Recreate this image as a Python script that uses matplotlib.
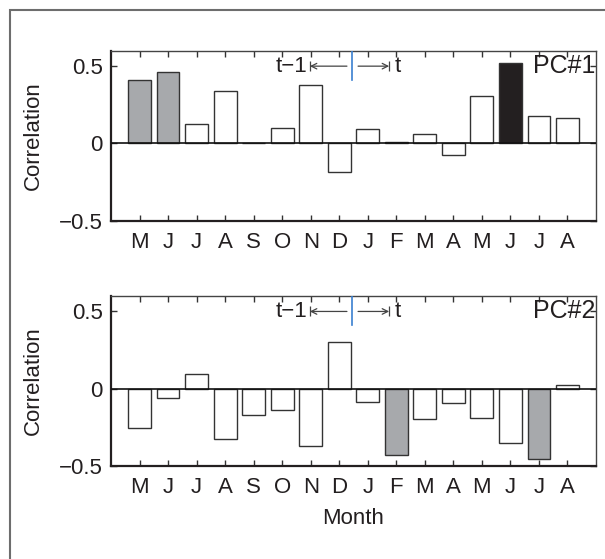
import matplotlib
matplotlib.use("Agg")
import matplotlib.pyplot as plt
from matplotlib.patches import Rectangle

plt.rcParams['font.family'] = ['Liberation Sans', 'DejaVu Sans']

months = ["M", "J", "J", "A", "S", "O", "N", "D", "J", "F", "M", "A", "M", "J", "J", "A"]
pc1 = [0.410, 0.464, 0.124, 0.342, 0.006, 0.098, 0.378, -0.188,
       0.094, 0.009, 0.060, -0.075, 0.308, 0.519, 0.177, 0.162]
pc2 = [-0.254, -0.060, 0.093, -0.325, -0.170, -0.140, -0.369, 0.304,
       -0.084, -0.431, -0.198, -0.093, -0.192, -0.353, -0.453, 0.022]
# shading class per bar: 0 = not significant, 1 = gray, 2 = black
pc1_sig = [1, 1, 0, 0, 0, 0, 0, 0, 0, 0, 0, 0, 0, 2, 0, 0]
pc2_sig = [0, 0, 0, 0, 0, 0, 0, 0, 0, 1, 0, 0, 0, 0, 1, 0]
labels = ["PC#1", "PC#2"]

fills = {0: "white", 1: "#a7a9ac", 2: "#231f20"}

W, H = 605, 559
fig = plt.figure(figsize=(W / 100, H / 100), dpi=100)

# outer frame
fig.add_artist(Rectangle((9.5 / W, -0.2), 1.5, 1.2 - 10 / H,
                         transform=fig.transFigure, fill=False,
                         edgecolor="#6d6d6d", linewidth=1.5, clip_on=False))

ax_l, ax_w = 111 / W, 485 / W
ax_h = 170 / H
axes_bottoms = [1 - 220.7 / H, 1 - 466 / H]

x = list(range(1, len(months) + 1))
FS = 16

for i, (vals, sig, lab) in enumerate(zip([pc1, pc2], [pc1_sig, pc2_sig], labels)):
    ax = fig.add_axes([ax_l, axes_bottoms[i], ax_w, ax_h])
    ax.bar(x, vals, width=0.8, color=[fills[s] for s in sig],
           edgecolor="#333333", linewidth=1.0, zorder=2)
    ax.axhline(0, color="#111111", linewidth=1.2, zorder=3)
    ax.set_xlim(0, 17)
    ax.set_ylim(-0.5, 0.6)
    ax.set_xticks(x)
    ax.set_xticklabels(months)
    ax.set_yticks([-0.5, 0, 0.5])
    ax.set_yticklabels(["\u22120.5", "0", "0.5"])
    ax.tick_params(direction="in", top=True, right=True, length=4,
                   width=1.0, color="#333333", labelsize=FS,
                   labelcolor="#231f20")
    ax.tick_params(axis="x", pad=8)
    ax.tick_params(axis="y", pad=6)
    for s in ["left", "bottom"]:
        ax.spines[s].set_linewidth(1.6)
        ax.spines[s].set_color("#231f20")
    for s in ["top", "right"]:
        ax.spines[s].set_linewidth(1.0)
        ax.spines[s].set_color("#444444")
    ax.set_ylabel("Correlation", fontsize=FS, color="#231f20", labelpad=11)

    # t-1 / t indicator
    ax.plot([8.46, 8.46], [0.6, 0.41], color="#3a7fd0", linewidth=1.2, zorder=4)
    ax.annotate("", xy=(6.97, 0.5), xytext=(8.27, 0.5),
                arrowprops=dict(arrowstyle="->", color="#444444", lw=0.9,
                                shrinkA=0, shrinkB=0))
    ax.annotate("", xy=(9.75, 0.5), xytext=(8.66, 0.5),
                arrowprops=dict(arrowstyle="->", color="#444444", lw=0.9,
                                shrinkA=0, shrinkB=0))
    ax.plot([6.97, 9.75], [0.5, 0.5], linestyle="none", marker="|",
            markersize=7, color="#444444", markeredgewidth=0.9)
    ax.text(6.88, 0.5, "t\u22121", fontsize=FS, ha="right", va="center",
            color="#231f20")
    ax.text(9.95, 0.5, "t", fontsize=FS, ha="left", va="center",
            color="#231f20")
    ax.text(16.98, 0.5, lab, fontsize=18, ha="right", va="center",
            color="#231f20")

    if i == 1:
        ax.set_xlabel("Month", fontsize=FS, color="#231f20", labelpad=7)

fig.savefig("out.png", dpi=100)
